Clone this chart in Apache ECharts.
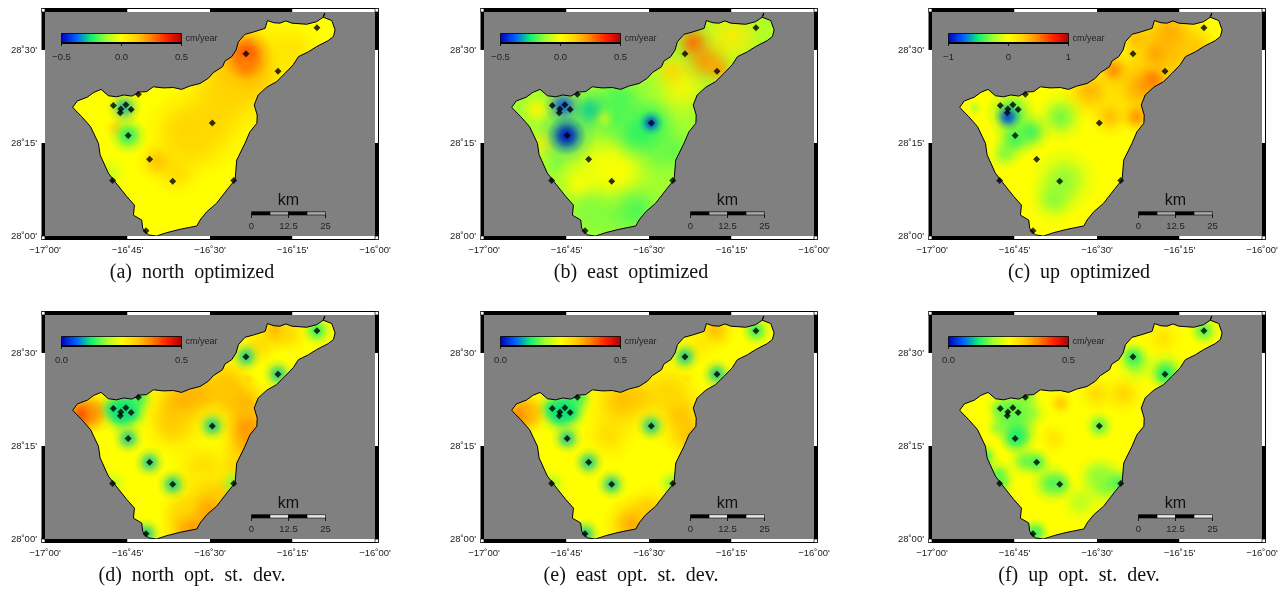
<!DOCTYPE html>
<html>
<head>
<meta charset="utf-8">
<script src="https://cdn.jsdelivr.net/npm/echarts@6/dist/echarts.min.js"></script>
<style>
html, body { margin: 0; padding: 0; background: #fff; }
#main { width: 1285px; height: 591px; }
</style>
</head>
<body>
<div id="main"></div>
<script>
// coast of the island, clockwise from the west tip
const coastLon = [-16.916,-16.902,-16.872,-16.852,-16.830,-16.808,-16.783,-16.761,-16.737,-16.712,-16.692,-16.672,-16.642,-16.611,-16.586,-16.561,-16.530,-16.505,-16.490,-16.462,-16.455,-16.434,-16.421,-16.414,-16.394,-16.369,-16.333,-16.326,-16.306,-16.288,-16.270,-16.252,-16.207,-16.177,-16.157,-16.152,-16.157,-16.131,-16.121,-16.126,-16.142,-16.177,-16.202,-16.232,-16.248,-16.273,-16.298,-16.328,-16.354,-16.366,-16.357,-16.358,-16.379,-16.394,-16.419,-16.424,-16.445,-16.480,-16.510,-16.530,-16.540,-16.591,-16.631,-16.662,-16.687,-16.704,-16.707,-16.732,-16.729,-16.752,-16.788,-16.808,-16.833,-16.838,-16.862,-16.889,-16.909,-16.916];
const coastLat = [28.346,28.363,28.373,28.386,28.394,28.377,28.374,28.379,28.376,28.387,28.388,28.401,28.398,28.399,28.394,28.403,28.410,28.424,28.439,28.455,28.470,28.482,28.500,28.522,28.542,28.548,28.558,28.579,28.573,28.572,28.578,28.572,28.569,28.576,28.588,28.599,28.588,28.579,28.554,28.536,28.525,28.509,28.495,28.482,28.460,28.437,28.415,28.400,28.379,28.352,28.325,28.303,28.280,28.249,28.204,28.151,28.128,28.088,28.065,28.043,28.027,28.018,28.009,28.000,28.003,28.021,28.043,28.056,28.083,28.106,28.146,28.169,28.218,28.249,28.294,28.321,28.339,28.346];

// GPS stations
const stationLon = [-16.793,-16.755,-16.739,-16.770,-16.772,-16.717,-16.748,-16.493,-16.391,-16.294,-16.176,-16.683,-16.613,-16.795,-16.694,-16.428];
const stationLat = [28.351,28.353,28.340,28.341,28.331,28.381,28.270,28.304,28.490,28.443,28.560,28.206,28.147,28.149,28.014,28.149];

const lonTicks = {'-17':'−17˚00\'','-16.75':'−16˚45\'','-16.5':'−16˚30\'','-16.25':'−16˚15\'','-16':'−16˚00\''};
const latTicks = {'28':'28˚00\'','28.25':'28˚15\'','28.5':'28˚30\''};
const frameLon = [-17,-16.75,-16.5,-16.25,-16];
const frameLat = [28,28.25,28.5,28.602];
const scaleStops = [0,6.25,12.5,18.75,25];

const captions = ['(a)  north  optimized','(b)  east  optimized','(c)  up  optimized','(d)  north  opt.  st.  dev.','(e)  east  opt.  st.  dev.','(f)  up  opt.  st.  dev.'];
const ranges = [[-0.5,0.5],[-0.5,0.5],[-1,1],[0,0.5],[0,0.5],[0,0.5]];
const rangeSteps = [0.5,0.5,1,0.5,0.5,0.5];
const baseValues = [0.0,-0.12,0.0,0.25,0.25,0.25];

// field: [lon, lat, value, radius in degrees], painted in order
const northField = [
  [-16.40,28.45,0.2,0.13],[-16.45,28.38,0.12,0.1],[-16.25,28.50,0.08,0.08],[-16.50,28.31,0.12,0.12],
  [-16.58,28.28,0.12,0.1],[-16.55,28.25,0.1,0.09],[-16.60,28.17,0.1,0.06],[-16.66,28.20,0.15,0.05],
  [-16.39,28.49,0.33,0.06],[-16.39,28.46,0.25,0.04],[-16.80,28.17,-0.07,0.04],[-16.785,28.29,0.1,0.03],
  [-16.748,28.27,-0.25,0.045],[-16.76,28.345,-0.3,0.04]
];
const eastField = [
  [-16.60,28.32,-0.2,0.12],[-16.50,28.25,-0.18,0.1],[-16.62,28.08,-0.16,0.12],
  [-16.25,28.535,0.05,0.1],[-16.40,28.40,0.02,0.08],[-16.43,28.445,0.1,0.05],[-16.12,28.55,-0.08,0.025],
  [-16.33,28.47,0.22,0.06],[-16.29,28.45,0.2,0.04],[-16.367,28.52,0.28,0.05],
  [-16.639,28.185,0.0,0.11],[-16.59,28.17,0.0,0.09],[-16.71,28.14,0.0,0.06],[-16.64,28.32,-0.03,0.03],
  [-16.84,28.34,0.02,0.04],[-16.82,28.25,0.03,0.04],
  [-16.54,28.07,-0.2,0.07],[-16.68,28.07,-0.15,0.06],[-16.78,28.19,-0.15,0.03],
  [-16.43,28.23,-0.18,0.06],[-16.54,28.27,-0.22,0.06],[-16.59,28.366,-0.2,0.06],[-16.494,28.304,-0.25,0.06],
  [-16.494,28.304,-0.42,0.028],[-16.68,28.339,-0.28,0.05],[-16.76,28.35,-0.4,0.045],
  [-16.75,28.27,-0.3,0.07],[-16.75,28.27,-0.5,0.045]
];
const upField = [
  [-16.30,28.48,0.28,0.14],[-16.38,28.40,0.3,0.1],[-16.28,28.52,0.32,0.1],[-16.52,28.39,0.35,0.07],
  [-16.46,28.32,0.32,0.05],[-16.20,28.51,0.28,0.05],[-16.38,28.53,0.32,0.04],[-16.28,28.55,0.36,0.05],
  [-16.32,28.49,0.38,0.04],[-16.36,28.40,0.4,0.05],[-16.38,28.32,0.45,0.04],[-16.33,28.42,0.52,0.04],
  [-16.45,28.447,0.48,0.04],
  [-16.87,28.345,-0.2,0.02],[-16.60,28.15,-0.3,0.08],[-16.63,28.10,-0.3,0.06],[-16.61,28.32,-0.35,0.06],
  [-16.78,28.22,-0.3,0.04],[-16.70,28.28,-0.45,0.05],[-16.75,28.26,-0.45,0.05],
  [-16.76,28.33,-0.5,0.06],[-16.77,28.32,-0.85,0.032]
];
const northDevField = [
  [-16.885,28.335,0.44,0.05],[-16.85,28.34,0.36,0.05],[-16.58,28.36,0.35,0.09],[-16.52,28.37,0.35,0.09],
  [-16.61,28.31,0.32,0.08],[-16.45,28.38,0.34,0.08],[-16.40,28.30,0.39,0.07],[-16.40,28.36,0.34,0.07],
  [-16.38,28.25,0.36,0.07],[-16.42,28.20,0.31,0.06],[-16.45,28.42,0.32,0.07],[-16.52,28.20,0.3,0.08],
  [-16.54,28.15,0.28,0.06],[-16.56,28.04,0.37,0.07],[-16.50,28.08,0.36,0.07],[-16.46,28.12,0.32,0.06],
  [-16.58,28.08,0.3,0.06],[-16.30,28.56,0.34,0.05],[-16.26,28.55,0.3,0.05],[-16.35,28.52,0.3,0.05],
  [-16.385,28.43,0.3,0.015],[-16.493,28.304,0.25,0.1],[-16.76,28.34,0.15,0.06],[-16.74,28.37,0.15,0.05]
];
const eastDevField = [
  [-16.885,28.335,0.4,0.05],[-16.86,28.34,0.33,0.05],[-16.58,28.37,0.33,0.09],[-16.52,28.36,0.33,0.08],
  [-16.62,28.28,0.3,0.07],[-16.42,28.33,0.34,0.08],[-16.44,28.40,0.31,0.08],[-16.38,28.28,0.33,0.06],
  [-16.55,28.04,0.35,0.07],[-16.50,28.08,0.32,0.06],[-16.30,28.56,0.33,0.05],[-16.35,28.52,0.28,0.05],
  [-16.385,28.43,0.29,0.015],[-16.493,28.304,0.25,0.09],[-16.76,28.34,0.15,0.06],[-16.74,28.37,0.15,0.05]
];
const upDevField = [
  [-16.42,28.39,0.31,0.05],[-16.50,28.39,0.3,0.05],[-16.61,28.365,0.32,0.03],[-16.30,28.54,0.29,0.05],
  [-16.63,28.27,0.29,0.04],[-16.38,28.47,0.18,0.05],[-16.29,28.45,0.16,0.05],[-16.55,28.10,0.2,0.05],
  [-16.80,28.30,0.18,0.03],[-16.70,28.34,0.18,0.04],[-16.75,28.32,0.16,0.06],[-16.74,28.28,0.13,0.05],
  [-16.84,28.22,0.14,0.035],[-16.80,28.17,0.15,0.04],[-16.72,28.21,0.16,0.04],[-16.64,28.15,0.15,0.05],
  [-16.47,28.15,0.16,0.06],[-16.50,28.17,0.18,0.05],[-16.68,28.02,0.17,0.03]
];
const fields = [northField,eastField,upField,northDevField,eastDevField,upDevField];

// value at each station in the st. dev. panels
const northDevStations = [0.12,0.12,0.12,0.12,0.12,0.14,0.11,0.11,0.11,0.11,0.13,0.11,0.11,0.2,0.11,0.17];
const eastDevStations = [0.12,0.12,0.12,0.12,0.12,0.14,0.11,0.11,0.11,0.11,0.13,0.11,0.11,0.19,0.11,0.17];
const upDevStations = [0.16,0.16,0.16,0.16,0.16,0.16,0.13,0.15,0.13,0.13,0.14,0.14,0.15,0.16,0.14,0.14];
const stationValues = [null,null,null,northDevStations,eastDevStations,upDevStations];

const palette = ['#0000c0','#0060ff','#10f070','#a0ff30','#ffff00','#ffd000','#ff8000','#ff2000','#b00000'];
const GRAY = '#808080';
const FONT = '"Liberation Sans", Arial, sans-serif';
const colLeft = [45,484,932];
const rowTop = [12,315];
const SPREAD = 1.35;

function valueColor(v, range) {
  let t = (v - range[0]) / (range[1] - range[0]);
  return echarts.color.lerp(Math.max(0, Math.min(1, t)), palette);
}

function coastPoints(api) {
  return coastLon.map((lon, i) => api.coord([lon, coastLat[i]]));
}

let grids = [], xAxes = [], yAxes = [], series = [], texts = [];

function addGrid(left, top, width, height, xAxis, yAxis) {
  grids.push({left: left, top: top, width: width, height: height, show: false});
  xAxes.push(Object.assign({type: 'value', gridIndex: grids.length - 1, splitLine: {show: false}}, xAxis));
  yAxes.push(Object.assign({type: 'value', gridIndex: grids.length - 1, splitLine: {show: false}}, yAxis));
  return grids.length - 1;
}

const hiddenAxis = {min: 0, max: 1, axisLine: {show: false}, axisTick: {show: false}, axisLabel: {show: false}};

function addMap(p, left, top) {
  const range = ranges[p];
  const g = addGrid(left, top, 330, 224, {
    min: -17, max: -16, interval: 0.25,
    axisLine: {show: false}, axisTick: {show: false},
    axisLabel: {fontFamily: FONT, fontSize: 9.5, color: '#222', margin: 9, formatter: v => lonTicks[String(v)] || ''}
  }, {
    min: 28, max: 28.602, interval: 0.25,
    axisLine: {show: false}, axisTick: {show: false},
    axisLabel: {fontFamily: FONT, fontSize: 9.5, color: '#222', margin: 8, formatter: v => latTicks[String(v)] || ''}
  });
  const base = {type: 'custom', xAxisIndex: g, yAxisIndex: g, silent: true};

  // island in its base colour
  series.push(Object.assign({}, base, {
    z: 2, data: [[coastLon[0], coastLat[0]]],
    renderItem: (params, api) => ({type: 'polygon', shape: {points: coastPoints(api)}, style: {fill: valueColor(baseValues[p], range)}})
  }));

  // the field, broad patches first
  let spots = fields[p].slice();
  if (stationValues[p]) {
    stationValues[p].forEach((v, i) => spots.push([stationLon[i], stationLat[i], v, 0.036]));
  }
  series.push(Object.assign({}, base, {
    z: 3, clip: true, data: spots, encode: {x: 0, y: 1},
    renderItem: (params, api) => {
      let c = api.coord([api.value(0), api.value(1)]);
      let r = api.size([api.value(3), 0])[0] * SPREAD;
      let col = valueColor(api.value(2), range);
      return {type: 'circle', shape: {cx: c[0], cy: c[1], r: r}, style: {
        fill: new echarts.graphic.RadialGradient(0.5, 0.5, 0.5, [
          {offset: 0, color: echarts.color.modifyAlpha(col, 0.9)},
          {offset: 0.3, color: echarts.color.modifyAlpha(col, 0.65)},
          {offset: 0.65, color: echarts.color.modifyAlpha(col, 0.2)},
          {offset: 1, color: echarts.color.modifyAlpha(col, 0)}
        ])
      }};
    }
  }));

  // gray sea, a rectangle with the island cut out
  series.push(Object.assign({}, base, {
    z: 4, data: [[coastLon[0], coastLat[0]]],
    renderItem: (params, api) => {
      let corners = [[-17,28.602],[-16,28.602],[-16,28],[-17,28],[-17,28.602]].map(q => api.coord(q));
      return {type: 'polygon', shape: {points: corners.concat(coastPoints(api).reverse())}, style: {fill: GRAY}};
    }
  }));

  series.push({
    type: 'line', xAxisIndex: g, yAxisIndex: g, z: 5, silent: true, symbol: 'none',
    data: coastLon.map((lon, i) => [lon, coastLat[i]]),
    lineStyle: {color: '#000', width: 1}
  });
  series.push({
    type: 'scatter', xAxisIndex: g, yAxisIndex: g, z: 6, silent: true, symbol: 'diamond', symbolSize: 7,
    data: stationLon.map((lon, i) => [lon, stationLat[i]]),
    itemStyle: {color: '#000'}
  });

  // GMT style frame, black and white bands
  let segments = [];
  for (let i = 0; i < 4; i++) {
    segments.push([frameLon[i], frameLon[i + 1], 0, i % 2 == 0 ? 1 : 0]);
    segments.push([frameLon[i], frameLon[i + 1], 1, i % 2 == 0 ? 1 : 0]);
  }
  for (let i = 0; i < 3; i++) {
    segments.push([frameLat[i], frameLat[i + 1], 2, i % 2 == 0 ? 1 : 0]);
    segments.push([frameLat[i], frameLat[i + 1], 3, i % 2 == 0 ? 1 : 0]);
  }
  series.push(Object.assign({}, base, {
    z: 7, data: segments, encode: {x: -1, y: -1},
    renderItem: (params, api) => {
      let a = api.value(0), b = api.value(1), side = api.value(2), band = 3.5, rect;
      if (side < 2) {
        let p0 = api.coord([a, side == 0 ? 28.602 : 28]), p1 = api.coord([b, side == 0 ? 28.602 : 28]);
        rect = {x: p0[0], y: side == 0 ? p0[1] - band : p0[1], width: p1[0] - p0[0], height: band};
      } else {
        let p0 = api.coord([side == 2 ? -17 : -16, b]), p1 = api.coord([side == 2 ? -17 : -16, a]);
        rect = {x: side == 2 ? p0[0] - band : p0[0], y: p0[1], width: band, height: p1[1] - p0[1]};
      }
      return {type: 'rect', shape: rect, style: {fill: api.value(3) ? '#000' : '#fff'}};
    }
  }));
  // thin outline and the corner squares
  series.push(Object.assign({}, base, {
    z: 8, data: [[-17, 28.602]], 
    renderItem: (params, api) => {
      let tl = api.coord([-17, 28.602]), br = api.coord([-16, 28]);
      let x0 = tl[0] - 3.5, y0 = tl[1] - 3.5, x1 = br[0] + 3.5, y1 = br[1] + 3.5;
      let square = (x, y) => ({type: 'rect', shape: {x: x, y: y, width: 3.5, height: 3.5}, style: {fill: '#fff', stroke: '#000', lineWidth: 0.7}});
      return {type: 'group', children: [
        {type: 'polyline', shape: {points: [[x0, y0], [x1, y0], [x1, y1], [x0, y1]]}, style: {fill: null, stroke: '#000', lineWidth: 1}},
        square(x0, y0), square(br[0], y0), square(x0, br[1]), square(br[0], br[1])
      ]};
    }
  }));
}

function addColorbar(p, left, top) {
  const range = ranges[p];
  const g = addGrid(left + 16.5, top + 21.5, 120, 9.5, {
    min: range[0], max: range[1], interval: rangeSteps[p], z: 10,
    axisLine: {show: false},
    axisTick: {show: true, length: 3, lineStyle: {color: '#000', width: 0.8}},
    axisLabel: {fontFamily: FONT, fontSize: 9.5, color: '#222', margin: 9,
      formatter: v => (v < 0 ? '−' : '') + (rangeSteps[p] == 1 ? Math.abs(v).toFixed(0) : Math.abs(v).toFixed(1))}
  }, hiddenAxis);
  series.push({
    type: 'custom', xAxisIndex: g, yAxisIndex: g, z: 9, silent: true, data: [[range[0], 0]],
    renderItem: (params, api) => {
      let a = api.coord([range[0], 1]), b = api.coord([range[1], 0]);
      return {type: 'group', children: [
        {type: 'rect', shape: {x: a[0], y: a[1], width: b[0] - a[0], height: b[1] - a[1]}, style: {
          fill: new echarts.graphic.LinearGradient(0, 0, 1, 0, palette.map((c, i) => ({offset: i / (palette.length - 1), color: c}))),
          stroke: '#000', lineWidth: 0.8}},
        {type: 'line', shape: {x1: a[0], y1: b[1], x2: b[0], y2: b[1]}, style: {stroke: '#000', lineWidth: 2}},
        {type: 'text', x: b[0] + 4, y: (a[1] + b[1]) / 2, style: {text: 'cm/year', fill: '#222', font: '9px ' + FONT, textVerticalAlign: 'middle'}}
      ]};
    }
  });
}

function addScale(p, left, top) {
  const g = addGrid(left + 206.5, top + 199.7, 74, 3.3, {
    min: 0, max: 25, interval: 12.5, z: 10,
    axisLine: {show: false},
    axisTick: {show: true, length: 3, lineStyle: {color: '#000', width: 0.8}},
    axisLabel: {fontFamily: FONT, fontSize: 9.5, color: '#222', margin: 6, formatter: v => String(v)}
  }, hiddenAxis);
  const light = p < 3 ? '#a8a8a8' : '#e8e8e8';
  series.push({
    type: 'custom', xAxisIndex: g, yAxisIndex: g, z: 9, silent: true,
    data: scaleStops.slice(0, 4).map((s, i) => [s, scaleStops[i + 1]]), encode: {x: [0, 1]},
    renderItem: (params, api) => {
      let a = api.coord([api.value(0), 1]), b = api.coord([api.value(1), 0]);
      return {type: 'rect', shape: {x: a[0], y: a[1], width: b[0] - a[0], height: b[1] - a[1]},
        style: {fill: params.dataIndex % 2 == 0 ? '#000' : light, stroke: '#000', lineWidth: 0.6}};
    }
  });
  texts.push({type: 'text', x: left + 243.5, y: top + 189, z: 10, style: {text: 'km', fill: '#111', font: '16px ' + FONT, textAlign: 'center', textVerticalAlign: 'middle'}});
}

for (let p = 0; p < 6; p++) {
  let left = colLeft[p % 3], top = rowTop[p < 3 ? 0 : 1];
  addMap(p, left, top);
  addColorbar(p, left, top);
  addScale(p, left, top);
  texts.push({type: 'text', x: left + 147, y: top + 261, style: {
    text: captions[p], fill: '#111', font: '20px "Liberation Serif", "Times New Roman", serif',
    textAlign: 'center', textVerticalAlign: 'middle'
  }});
}

var myChart = echarts.init(document.getElementById('main'), null, {renderer: 'canvas'});
myChart.setOption({
  animation: false,
  backgroundColor: '#fff',
  tooltip: {show: false},
  grid: grids,
  xAxis: xAxes,
  yAxis: yAxes,
  series: series,
  graphic: texts
});
</script>
</body>
</html>
